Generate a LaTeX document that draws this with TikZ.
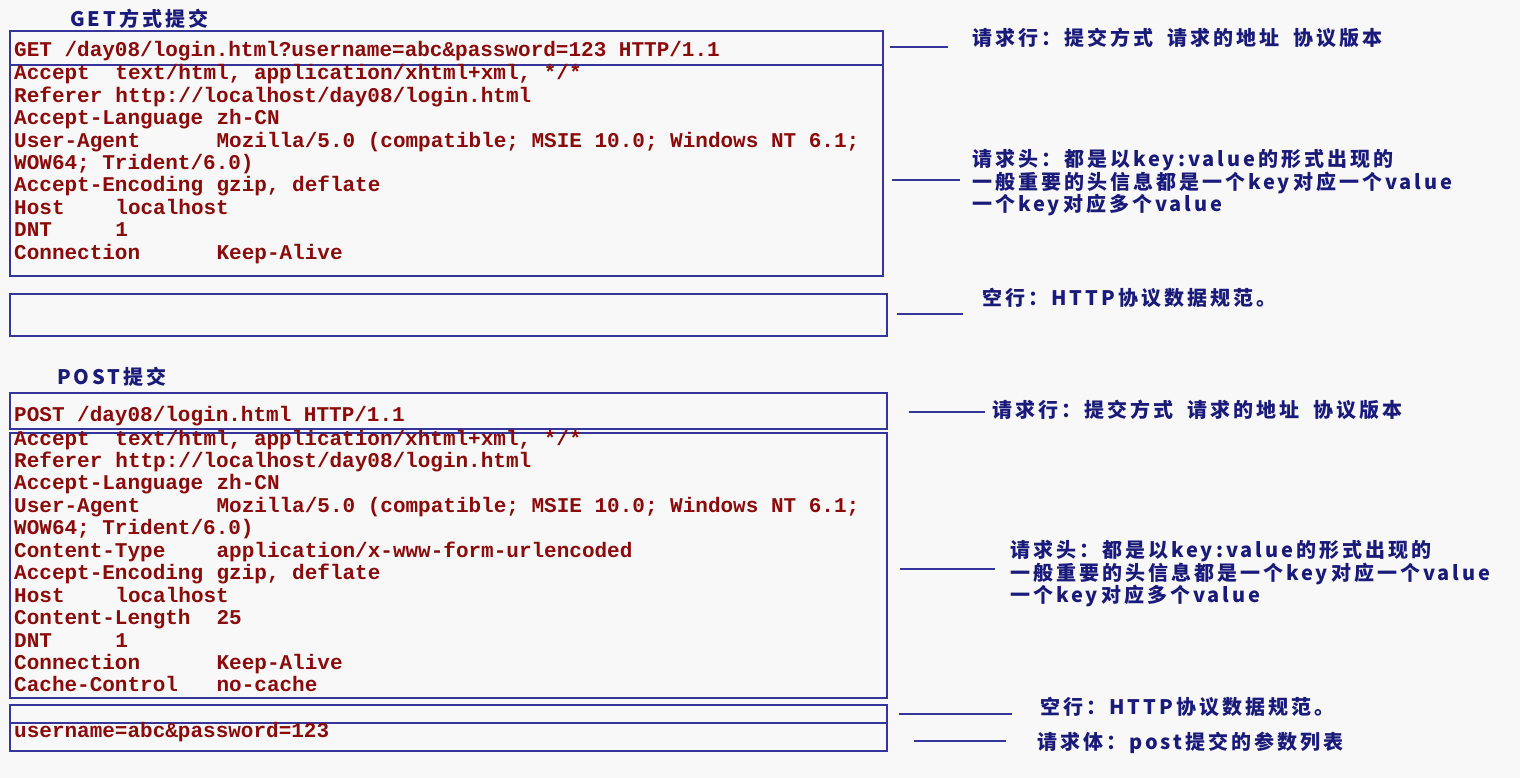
\documentclass[tikz,border=0pt]{standalone}
\usepackage{fontspec}
\usepackage{tikz}
\usetikzlibrary{positioning}
\newfontfamily\cjk{Noto Sans CJK SC}[LetterSpace=15]
\newfontfamily\codefont{Liberation Mono}
\definecolor{pagebg}{HTML}{F8F8F8}
\definecolor{boxblue}{HTML}{36369A}
\definecolor{codered}{HTML}{8B0A0A}
\definecolor{notenavy}{HTML}{1A1A7A}
\newcommand{\gap}{\hspace*{14pt}}

\begin{document}
\begin{tikzpicture}[x=1pt, y=-1pt,
    msgbox/.style={draw=boxblue, line width=1.7pt, inner sep=0, anchor=north west},
    code/.style={anchor=base west, inner sep=0, text=codered,
        font=\codefont\bfseries\fontsize{21}{22}\selectfont},
    note/.style={anchor=west, inner sep=0, align=left, text=notenavy,
        font=\cjk\bfseries\fontsize{20}{22.5}\selectfont},
    heading/.style={anchor=base west, inner sep=0, text=notenavy,
        font=\cjk\bfseries\fontsize{20}{22}\selectfont},
    link/.style={draw=boxblue, line width=1.7pt}]
\fill[pagebg] (0,0) rectangle (1520,778);

% GET request
\node[heading] (gettitle) at (70,27) {GET方式提交};
\node[msgbox, minimum width=873, minimum height=34] (getline) at (9,30) {};
\node[msgbox, minimum width=873, minimum height=211] (gethead) at (9,64) {};
\node[msgbox, minimum width=877, minimum height=42] (getblank) at (9,293) {};
\node[code] (getreq) at (14,57) {GET /day08/login.html?username=abc\&password=123 HTTP/1.1};
\foreach \key/\val/\col [count=\i from 0] in {%
    Accept/{text/html, application/xhtml+xml, */*}/8,
    Referer/{http://localhost/day08/login.html}/8,
    Accept-Language/zh-CN/16,
    User-Agent/{Mozilla/5.0 (compatible; MSIE 10.0; Windows NT 6.1;}/16,
    {WOW64; Trident/6.0)}/{}/0,
    Accept-Encoding/{gzip, deflate}/16,
    Host/localhost/8,
    DNT/1/8,
    Connection/Keep-Alive/16}
{
    \node[code] (getkey\i) at (14, {80+\i*22.4}) {\key};
    \node[code] (getval\i) at ({14+\col*12.65}, {80+\i*22.4}) {\val};
}

% POST request
\node[heading] (posttitle) at (57,384) {POST提交};
\node[msgbox, minimum width=877, minimum height=36] (postline) at (9,392) {};
\node[msgbox, minimum width=877, minimum height=265] (posthead) at (9,432) {};
\node[msgbox, minimum width=877, minimum height=18] (postblank) at (9,704) {};
\node[msgbox, minimum width=877, minimum height=28] (postbody) at (9,722) {};
\node[code] (postreq) at (14,421) {POST /day08/login.html HTTP/1.1};
\foreach \key/\val/\col [count=\i from 0] in {%
    Accept/{text/html, application/xhtml+xml, */*}/8,
    Referer/{http://localhost/day08/login.html}/8,
    Accept-Language/zh-CN/16,
    User-Agent/{Mozilla/5.0 (compatible; MSIE 10.0; Windows NT 6.1;}/16,
    {WOW64; Trident/6.0)}/{}/0,
    Content-Type/{application/x-www-form-urlencoded}/16,
    Accept-Encoding/{gzip, deflate}/16,
    Host/localhost/8,
    Content-Length/25/16,
    DNT/1/8,
    Connection/Keep-Alive/16,
    Cache-Control/no-cache/16}
{
    \node[code] (postkey\i) at (14, {445+\i*22.45}) {\key};
    \node[code] (postval\i) at ({14+\col*12.65}, {445+\i*22.45}) {\val};
}
\node[code] (postdata) at (14,737) {username=abc\&password=123};

% notes on the right
\node[note] (getlinelbl) at (972,38) {请求行：提交方式\gap 请求的地址\gap 协议版本};
\node[note] (getheadlbl) at (972,183) {请求头：都是以key:value的形式出现的\\
    一般重要的头信息都是一个key对应一个value\\一个key对应多个value};
\node[note] (getblanklbl) at (982,298) {空行：HTTP协议数据规范。};
\node[note] (postlinelbl) at (992,410) {请求行：提交方式\gap 请求的地址\gap 协议版本};
\node[note] (postheadlbl) at (1010,574) {请求头：都是以key:value的形式出现的\\
    一般重要的头信息都是一个key对应一个value\\一个key对应多个value};
\node[note] (postblanklbl) at (1040,707) {空行：HTTP协议数据规范。};
\node[note] (postbodylbl) at (1037,743) {请求体：post提交的参数列表};

% connectors: part / note / start gap / end gap / y offset
\foreach \part/\lbl/\sx/\eg/\dy in {%
    getline/getlinelbl/6/24/-1,
    gethead/getheadlbl/8/12/9.5,
    getblank/getblanklbl/9/19/-1,
    postline/postlinelbl/21/7/1,
    posthead/postheadlbl/12/15/3.5,
    postblank/postblanklbl/11/28/0,
    postbody/postbodylbl/26/31/4}
{
    \path ([xshift=\sx]\part.east) ++(0,\dy) coordinate (\part-s);
    \draw[link, shorten >=\eg pt] (\part-s) -- (\part-s -| \lbl.west);
}
\end{tikzpicture}
\end{document}
